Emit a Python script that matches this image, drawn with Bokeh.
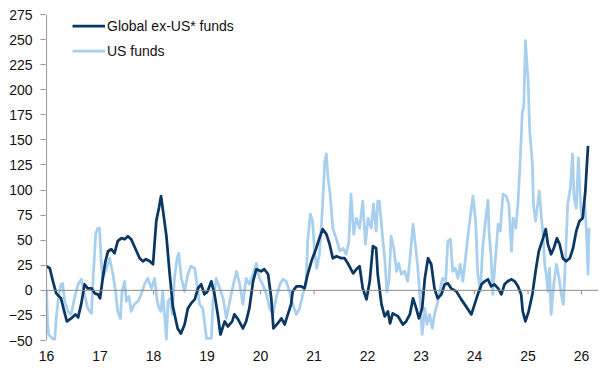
from bokeh.plotting import figure
from bokeh.models import FixedTicker, Span, Legend, LegendItem, Range1d
from bokeh.embed import file_html
from bokeh.resources import INLINE

# ---- data (x in years: 16 = 2016) ----
years = list(range(16, 27))
year_labels = [str(y) for y in years]
y_ticks = list(range(-50, 276, 25))

global_t = [16.00,16.06,16.12,16.18,16.27,16.34,16.38,16.46,16.54,16.59,
            16.65,16.71,16.77,16.84,16.90,16.96,17.00,17.05,17.10,17.15,
            17.21,17.27,17.33,17.40,17.46,17.52,17.58,17.64,17.74,17.80,
            17.86,17.93,17.99,18.05,18.10,18.14,18.24,18.30,18.36,18.45,
            18.51,18.58,18.64,18.70,18.77,18.83,18.89,18.95,19.01,19.08,
            19.14,19.20,19.25,19.33,19.39,19.47,19.51,19.58,19.67,19.73,
            19.79,19.86,19.92,20.01,20.07,20.14,20.20,20.24,20.32,20.39,
            20.45,20.51,20.57,20.60,20.67,20.76,20.82,20.88,20.95,21.04,
            21.10,21.16,21.23,21.29,21.35,21.42,21.51,21.57,21.63,21.73,
            21.79,21.85,21.91,21.98,22.04,22.10,22.16,22.19,22.26,22.32,
            22.38,22.42,22.47,22.57,22.66,22.72,22.79,22.85,22.91,22.96,
            23.02,23.07,23.13,23.19,23.25,23.31,23.38,23.44,23.50,23.56,
            23.66,23.75,23.84,23.94,24.00,24.06,24.13,24.19,24.25,24.31,
            24.37,24.44,24.50,24.56,24.62,24.69,24.75,24.81,24.87,24.90,
            24.95,25.01,25.08,25.14,25.20,25.28,25.33,25.37,25.43,25.48,
            25.54,25.59,25.65,25.71,25.78,25.84,25.90,25.96,26.02,26.07,
            26.12]
global_v = [24,22,9,-3,-8,-23,-31,-28,-24,-27,
            -13,6,2,2,-3,-4,-8,12,29,39,
            41,37,49,52,51,54,51,44,32,29,
            31,29,26,69,82,94,54,17,-16,-38,
            -43,-34,-18,-13,-9,2,6,-4,-1,9,
            -4,-24,-44,-31,-36,-31,-24,-29,-38,-31,
            -18,9,21,19,21,16,-8,-38,-33,-28,
            -34,-24,-14,-1,4,4,2,16,29,42,
            52,61,56,46,32,34,32,32,27,17,
            21,24,2,-9,9,44,42,16,-14,-26,
            -21,-33,-23,-26,-34,-31,-24,-8,-18,-28,
            -18,12,32,26,2,-8,-4,6,7,2,
            -1,-9,-16,-24,-14,-4,6,9,11,4,
            6,2,-4,6,9,11,9,4,-4,-21,
            -31,-21,-4,19,39,52,61,46,36,42,
            52,46,32,29,32,42,59,69,72,99,
            144]

us_t = [16.00,16.02,16.04,16.11,16.15,16.18,16.23,16.27,16.30,16.34,
        16.40,16.46,16.52,16.59,16.65,16.71,16.77,16.84,16.87,16.92,
        16.96,16.99,17.02,17.05,17.12,17.18,17.24,17.29,17.33,17.38,
        17.41,17.46,17.49,17.54,17.58,17.64,17.71,17.77,17.83,17.89,
        17.96,18.02,18.06,18.10,18.14,18.17,18.21,18.24,18.27,18.31,
        18.35,18.39,18.44,18.47,18.52,18.58,18.64,18.70,18.77,18.83,
        18.86,18.92,18.99,19.08,19.11,19.17,19.30,19.36,19.45,19.55,
        19.61,19.67,19.73,19.79,19.86,19.92,19.98,20.04,20.11,20.17,
        20.23,20.29,20.36,20.42,20.48,20.54,20.60,20.67,20.73,20.79,
        20.85,20.88,20.93,20.97,21.01,21.05,21.10,21.15,21.20,21.23,
        21.26,21.30,21.35,21.43,21.48,21.54,21.60,21.65,21.69,21.74,
        21.79,21.85,21.91,21.96,22.01,22.07,22.11,22.16,22.19,22.22,
        22.27,22.32,22.36,22.40,22.44,22.49,22.54,22.58,22.63,22.69,
        22.75,22.80,22.85,22.90,22.94,22.98,23.02,23.07,23.11,23.16,
        23.21,23.25,23.30,23.35,23.40,23.46,23.50,23.55,23.59,23.64,
        23.69,23.73,23.78,23.83,23.87,23.94,23.97,24.02,24.06,24.11,
        24.15,24.21,24.25,24.27,24.31,24.34,24.39,24.44,24.48,24.53,
        24.59,24.64,24.69,24.72,24.77,24.81,24.85,24.89,24.92,24.95,
        25.00,25.03,25.08,25.10,25.14,25.18,25.21,25.25,25.28,25.31,
        25.34,25.37,25.40,25.43,25.48,25.53,25.58,25.62,25.66,25.70,
        25.74,25.79,25.83,25.86,25.90,25.94,25.98,26.01,26.06,26.09,
        26.12,26.14]
us_v = [0,-34,-44,-48,-51,-28,-4,6,7,-11,
        -21,-24,-8,6,11,-4,-18,-23,12,57,
        62,62,29,12,22,32,16,-1,-21,-28,
        -1,9,-11,-6,-21,-14,-11,-4,6,12,
        2,12,-8,-18,-21,-1,-28,-49,-11,-8,
        -24,12,32,37,12,-1,16,24,22,-1,
        -14,-18,-48,-48,-11,12,-8,-28,-4,19,
        6,-14,12,6,16,27,12,6,-4,-18,
        -24,-8,6,11,9,-1,-14,-24,-18,-4,
        6,49,76,69,39,22,36,76,129,136,
        112,96,62,49,39,42,36,49,96,56,
        72,62,89,46,72,62,86,59,89,89,
        59,32,-1,9,54,42,19,27,16,19,
        9,36,66,42,22,-8,-44,-18,-34,-24,
        -38,-24,-14,-1,12,9,49,51,19,22,
        12,26,9,32,52,82,94,69,16,-1,
        42,72,90,59,32,-4,32,66,59,96,
        94,86,39,72,62,86,126,176,184,249,
        209,159,126,86,69,86,99,72,56,26,
        16,-1,22,-24,6,26,12,-4,-14,32,
        86,102,136,92,82,132,86,72,86,59,
        16,62]

# ---- styles ----
DARK = "#0b3763"
LIGHT = "#a9cfee"
AXIS_GRAY = "#999999"
ZERO_GRAY = "#8c8c8c"
FONT = "Liberation Sans"
FONT_SIZE = "14px"
TICK_LEN = 4

p = figure(width=602, height=370, output_backend="svg", toolbar_location=None,
           x_range=Range1d(15.98, 26.316), y_range=Range1d(-50, 275),
           min_border_left=45, min_border_right=4, min_border_top=14,
           min_border_bottom=30)
p.grid.visible = False
p.outline_line_color = None
p.background_fill_color = "white"
p.border_fill_color = "white"

# y axis (its line is drawn as a span at the first year)
yax = p.yaxis[0]
yax.ticker = FixedTicker(ticks=y_ticks)
yax.axis_line_color = None
yax.major_tick_line_color = AXIS_GRAY
yax.major_tick_out = 5
yax.major_tick_in = 0
yax.minor_tick_line_color = None
yax.major_label_standoff = 8
yax.major_label_text_font = FONT
yax.major_label_text_font_size = FONT_SIZE
yax.major_label_text_color = "#111111"

# x axis: labels only
xax = p.xaxis[0]
xax.ticker = FixedTicker(ticks=years)
xax.major_label_overrides = {y: lab for y, lab in zip(years, year_labels)}
xax.axis_line_color = None
xax.major_tick_line_color = None
xax.minor_tick_line_color = None
xax.major_tick_out = 0
xax.major_tick_in = 0
xax.major_label_standoff = 10
xax.major_label_text_font = FONT
xax.major_label_text_font_size = FONT_SIZE
xax.major_label_text_color = "#111111"

# vertical axis line at the first year, zero line with year ticks
p.add_layout(Span(location=years[0], dimension="height", line_color=AXIS_GRAY, line_width=1))
p.add_layout(Span(location=0, dimension="width", line_color=ZERO_GRAY, line_width=1))
p.segment(x0=years, y0=[0] * len(years), x1=years, y1=[-TICK_LEN] * len(years),
          line_color=ZERO_GRAY, line_width=1)

r_us = p.line(us_t, us_v, line_color=LIGHT, line_width=2.75, line_join="round")
r_gl = p.line(global_t, global_v, line_color=DARK, line_width=2.75, line_join="round")

legend = Legend(items=[LegendItem(label="Global ex-US* funds", renderers=[r_gl]),
                       LegendItem(label="US funds", renderers=[r_us])],
                location=(27, 277), orientation="vertical",
                padding=0, margin=0, spacing=0,
                glyph_width=33, glyph_height=25, label_height=25,
                label_standoff=2,
                label_text_font=FONT, label_text_font_size=FONT_SIZE,
                label_text_color="#111111",
                background_fill_alpha=0, border_line_alpha=0)
p.add_layout(legend)

open("out.html", "w").write(file_html(p, INLINE))
